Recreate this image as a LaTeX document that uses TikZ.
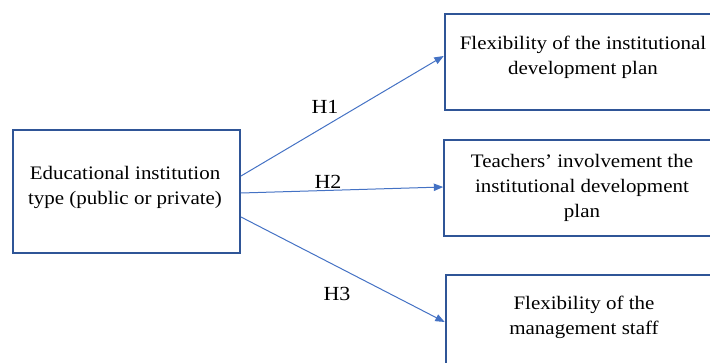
\documentclass[tikz,border=0pt]{standalone}
\usepackage{fontspec}
\setmainfont{Liberation Serif}[FakeStretch=1.1]
\usetikzlibrary{arrows.meta}
\definecolor{boxblue}{HTML}{2F5597}
\definecolor{lineblue}{HTML}{4472C4}
\begin{document}
\begin{tikzpicture}[x=0.75pt,y=-0.75pt,
  box/.style={draw=boxblue,line width=1.5pt,rectangle,inner sep=0pt},
  txt/.style={align=center,font=\fontsize{14.3}{18.8}\selectfont,inner sep=0pt},
  lab/.style={font=\fontsize{15}{15}\selectfont,inner sep=0pt},
  conn/.style={draw=lineblue,line width=0.75pt,-{Triangle[length=7pt,width=5.5pt]}}]
\useasboundingbox (0,0) rectangle (710,363);
\begin{scope}
\clip (0,0) rectangle (710,363);
\node[box,minimum width=170.25pt,minimum height=92.25pt] (src) at (126.5,191.5) {};
\node[box,minimum width=206pt,minimum height=72pt] (b1) at (582,62) {};
\node[box,minimum width=206pt,minimum height=72pt] (b2) at (581.5,188) {};
\node[box,minimum width=206pt,minimum height=72pt] (b3) at (583,323) {};
\end{scope}
\node[txt] (tsrc) at (125,187.5) {Educational institution\\type (public or private)};
\node[txt] (t1) at (583,57.5) {Flexibility of the institutional\\development plan};
\node[txt] (t2) at (582,188) {Teachers’ involvement the\\institutional development\\plan};
\node[txt] (t3) at (584,317.5) {Flexibility of the\\management staff};
\coordinate (s1) at (241,176);
\coordinate (s2) at (241,193);
\coordinate (s3) at (241,217);
\coordinate (e1) at (b1.west |- 0,56);
\coordinate (e2) at (b2.west |- 0,187);
\coordinate (e3) at (b3.west |- 0,322);
\draw[conn] (s1) -- (e1);
\draw[conn] (s2) -- (e2);
\draw[conn] (s3) -- (e3);
\node[lab] (h1) at (325,107) {H1};
\node[lab] (h2) at (328,182) {H2};
\node[lab] (h3) at (337,294) {H3};
\end{tikzpicture}
\end{document}
